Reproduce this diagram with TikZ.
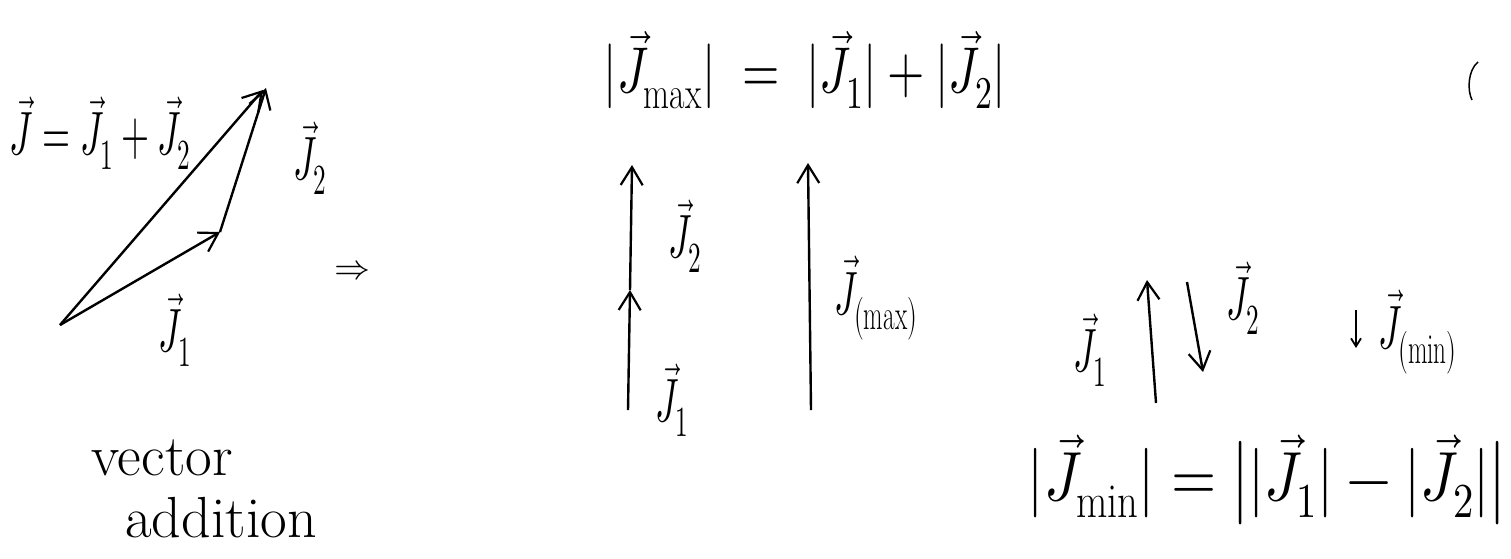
\documentclass[tikz,border=0pt]{standalone}
\usepackage{unicode-math}
\usepackage{graphicx}
\usetikzlibrary{arrows.meta}
\newcommand{\tallx}[2]{\scalebox{1}[#1]{#2}}
\tikzset{
  vecline/.style={line width=2.4pt,-{Straight Barb[length=18pt,width=22pt,line width=2.2pt]}},
  smallvec/.style={line width=2pt,-{Straight Barb[length=8pt,width=10pt,line width=1.8pt]}},
  bigtxt/.style={font=\fontsize{48}{56}\selectfont,inner sep=0pt},
  lowtxt/.style={font=\fontsize{58}{66}\selectfont,inner sep=0pt},
  midtxt/.style={font=\fontsize{36}{42}\selectfont,inner sep=0pt},
  wordtxt/.style={font=\fontsize{58}{64}\selectfont,inner sep=0pt},
}
\begin{document}
\begin{tikzpicture}[x=1pt,y=-1pt]
\useasboundingbox (0,0) rectangle (1511,558);
% left triangle
\coordinate (O) at (60,325);
\coordinate (A) at (220,232);
\coordinate (B) at (266,88);
\draw[vecline] (O) -- (A);
\draw[vecline] (A) -- (B);
\draw[vecline] (O) -- (263,90) coordinate (Bs);
\node[midtxt] (sum) at (100,133) {\tallx{1.7}{$\vec J=\vec J_1+\vec J_2$}};
\node[midtxt] (lj2) at (310,158) {\tallx{1.7}{$\vec J_2$}};
\node[midtxt] (lj1) at (175,330) {\tallx{1.7}{$\vec J_1$}};
\node[wordtxt] (va1) at (162,458) {vector};
\node[wordtxt] (va2) at (221,518) {addition};
% implication
\node[midtxt] (impl) at (352,270) {$\Rightarrow$};
% top equation
\node[bigtxt] (eqmax) at (805,70) {\tallx{1.35}{$|\vec J_{\mathrm{max}}|\;=\;|\vec J_1|+|\vec J_2|$}};
% column of J1, J2
\coordinate (c0) at (628,410);
\coordinate (c1) at (630,290);
\coordinate (c2) at (632,165);
\draw[vecline] (c0) -- (c1);
\draw[vecline] (c1) -- (c2);
\node[midtxt] (cj2) at (685,236) {\tallx{1.7}{$\vec J_2$}};
\node[midtxt] (cj1) at (672,400) {\tallx{1.7}{$\vec J_1$}};
% J max arrow
\coordinate (m0) at (811,410);
\coordinate (m1) at (808,163);
\draw[vecline] (m0) -- (m1);
\node[midtxt,anchor=west] (mj) at (834,298) {\tallx{1.7}{$\vec J_{(\mathrm{max})}$}};
% right: opposite vectors
\coordinate (r0) at (1156,403);
\coordinate (r1) at (1147,280);
\draw[vecline] (r0) -- (r1);
\coordinate (d0) at (1187,282);
\coordinate (d1) at (1203,372);
\draw[vecline] (d0) -- (d1);
\node[midtxt] (rj1) at (1090,350) {\tallx{1.7}{$\vec J_1$}};
\node[midtxt] (rj2) at (1243,298) {\tallx{1.7}{$\vec J_2$}};
\coordinate (s0) at (1356,310);
\coordinate (s1) at (1356,348);
\draw[smallvec] (s0) -- (s1);
\node[midtxt,anchor=west] (minl) at (1378,332) {\tallx{1.7}{$\vec J_{(\mathrm{min})}$}};
% bottom equation
\node[lowtxt] (eqmin) at (1267,480) {\tallx{1.2}{$|\vec J_{\mathrm{min}}|=\bigl||\vec J_1|-|\vec J_2|\bigr|$}};
% stray mark
\draw[line width=1.5pt] (1478,62) .. controls (1468,70) and (1467,90) .. (1472,100);
\end{tikzpicture}
\end{document}
